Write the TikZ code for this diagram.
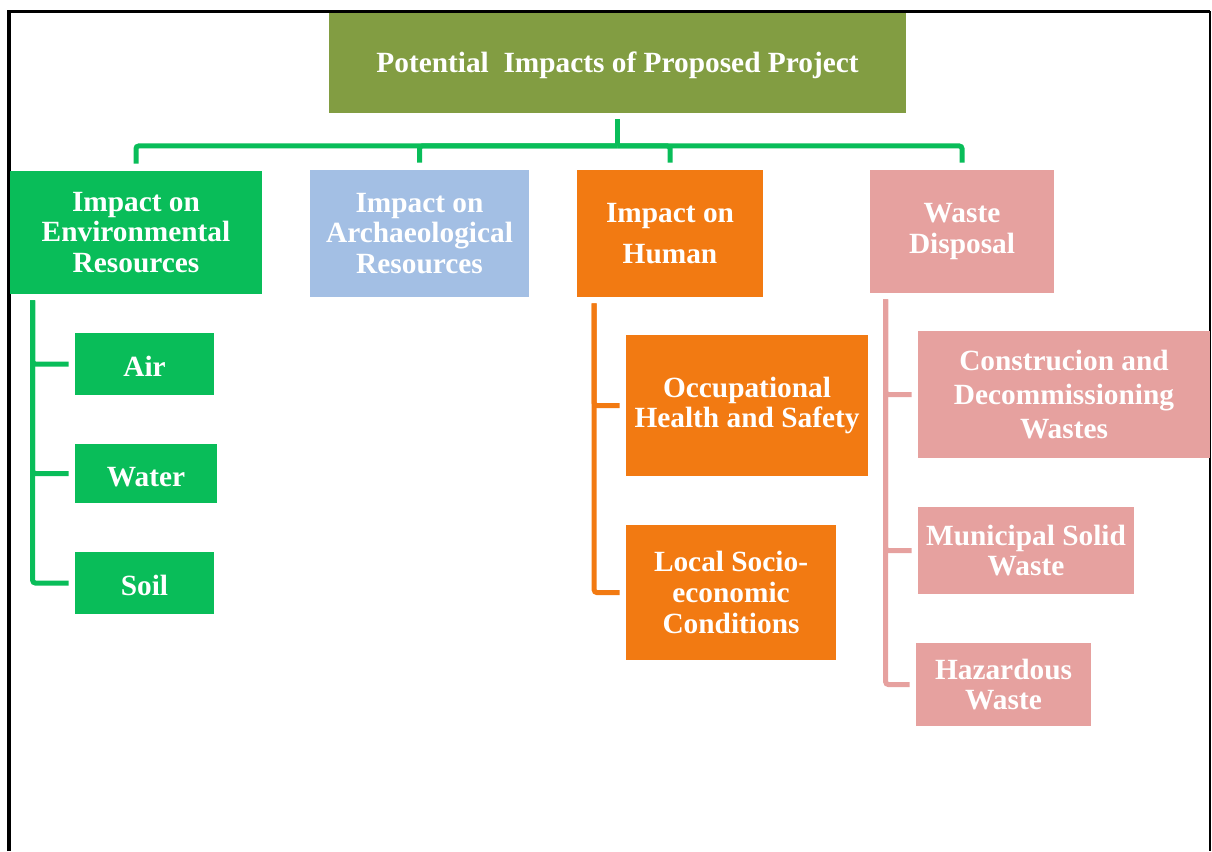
\documentclass[tikz,border=0pt]{standalone}
\usepackage{fontspec}
\setmainfont{Liberation Serif}
\usetikzlibrary{calc}

\definecolor{olivebox}{RGB}{130,157,66}
\definecolor{envgreen}{RGB}{9,189,89}
\definecolor{archblue}{RGB}{163,191,228}
\definecolor{humanorange}{RGB}{242,122,18}
\definecolor{wastepink}{RGB}{230,161,159}

\begin{document}
\begin{tikzpicture}[x=0.02cm,y=-0.02cm,
    impact box/.style={rectangle,inner sep=0pt,align=center,text=white,font=\bfseries\fontsize{16.7}{17.4}\selectfont,execute at begin node={\rule{0pt}{14.5pt}}},
    link/.style={line width=0.1cm,rounded corners=1.5pt,shorten >=0.12cm}]
    \useasboundingbox (0,0) rectangle (1212,851);

    % frame
    \draw[line width=0.075cm] (9,851) -- (9,11.5) -- (1210,11.5);
    \draw[line width=0.04cm] (1210,11.5) -- (1210,851);

    % top level
    \node[impact box,fill=olivebox,minimum width=11.54cm,minimum height=2cm] (top) at (617.5,63) {Potential\ \ Impacts of Proposed Project};

    \node[impact box,fill=envgreen,minimum width=5.04cm,minimum height=2.46cm] (env) at (136,232.5) {Impact on\\Environmental\\Resources};
    \node[impact box,fill=archblue,minimum width=4.38cm,minimum height=2.54cm] (arch) at (419.5,233.5) {Impact on\\Archaeological\\Resources};
    \node[impact box,fill=humanorange,minimum width=3.72cm,minimum height=2.54cm] (human) at (670,233.5) {Impact on\\[6pt]Human};
    \node[impact box,fill=wastepink,minimum width=3.68cm,minimum height=2.46cm] (waste) at (962,231.5) {Waste\\Disposal};

    % environmental resources
    \node[impact box,fill=envgreen,minimum width=2.78cm,minimum height=1.24cm] (air) at (144.5,364) {Air};
    \node[impact box,fill=envgreen,minimum width=2.84cm,minimum height=1.18cm] (water) at (146,473.5) {Water};
    \node[impact box,fill=envgreen,minimum width=2.78cm,minimum height=1.24cm] (soil) at (144.5,583) {Soil};

    % human
    \node[impact box,fill=humanorange,minimum width=4.84cm,minimum height=2.82cm] (ohs) at (747,405.5) {Occupational\\Health and Safety};
    \node[impact box,fill=humanorange,minimum width=4.2cm,minimum height=2.7cm] (socio) at (731,592.5) {Local Socio-\\economic\\Conditions};

    % waste
    \node[impact box,fill=wastepink,minimum width=5.84cm,minimum height=2.54cm] (cdw) at (1064,394.5) {Construcion and\\[2pt]Decommissioning\\[2pt]Wastes};
    \node[impact box,fill=wastepink,minimum width=4.32cm,minimum height=1.74cm] (msw) at (1026,550.5) {Municipal Solid\\Waste};
    \node[impact box,fill=wastepink,minimum width=3.5cm,minimum height=1.66cm] (hzw) at (1003.5,684.5) {Hazardous\\Waste};

    % connectors
    \coordinate (hub) at (617.5,146);
    \draw[link,envgreen,shorten >=0pt,shorten <=0.12cm] (top) -- (hub);
    \draw[link,envgreen,shorten >=0.14cm] (hub) -| (env);
    \draw[link,envgreen,shorten >=0.14cm] (hub) -| (arch);
    \draw[link,envgreen,shorten >=0.14cm] (hub) -| (human);
    \draw[link,envgreen,shorten >=0.14cm] (hub) -| (waste);

    \coordinate (envbar) at ($(env.south west)+(23,6)$);
    \coordinate (humanbar) at ($(human.south west)+(17.5,6)$);
    \coordinate (wastebar) at ($(waste.south west)+(16,6)$);

    \draw[link,envgreen] (envbar) |- (air);
    \draw[link,envgreen] (envbar) |- (water);
    \draw[link,envgreen] (envbar) |- (soil);

    \draw[link,humanorange] (humanbar) |- (ohs);
    \draw[link,humanorange] (humanbar) |- (socio);

    \draw[link,wastepink] (wastebar) |- (cdw);
    \draw[link,wastepink] (wastebar) |- (msw);
    \draw[link,wastepink] (wastebar) |- (hzw);
\end{tikzpicture}
\end{document}
